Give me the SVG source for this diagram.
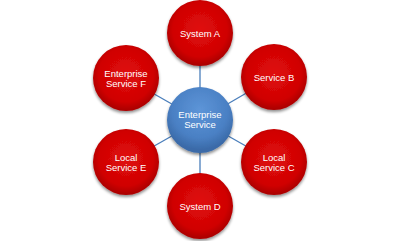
<svg xmlns="http://www.w3.org/2000/svg" width="400" height="241" viewBox="0 0 400 241">
<defs>
<radialGradient id="red" cx="50%" cy="45%" r="55%">
<stop offset="0" stop-color="#e00a0a"/>
<stop offset="0.75" stop-color="#d00404"/>
<stop offset="1" stop-color="#a80000"/>
</radialGradient>
<radialGradient id="blue" cx="50%" cy="35%" r="60%">
<stop offset="0" stop-color="#5d95d8"/>
<stop offset="0.7" stop-color="#4a80c4"/>
<stop offset="1" stop-color="#3a6aa8"/>
</radialGradient>
<filter id="sh" x="-30%" y="-30%" width="160%" height="170%">
<feGaussianBlur in="SourceAlpha" stdDeviation="1.6"/>
<feOffset dx="0" dy="2" result="b"/>
<feComponentTransfer><feFuncA type="linear" slope="0.45"/></feComponentTransfer>
<feMerge><feMergeNode/><feMergeNode in="SourceGraphic"/></feMerge>
</filter>
</defs>
<style>
.n{fill:url(#red);filter:url(#sh)}
.c{fill:url(#blue);filter:url(#sh)}
.t{font-family:"Liberation Sans",Arial,sans-serif;font-size:9.5px;fill:#ffffff;text-anchor:middle}
.e{stroke:#4a7ebb;stroke-width:1.3;fill:none}
</style>
<rect width="400" height="241" fill="#ffffff"/>
<g id="connectors">
<line class="e" x1="200" y1="120" x2="200" y2="33"/>
<line class="e" x1="200" y1="120" x2="274" y2="77"/>
<line class="e" x1="200" y1="120" x2="274" y2="162"/>
<line class="e" x1="200" y1="120" x2="200" y2="206"/>
<line class="e" x1="200" y1="120" x2="126" y2="162"/>
<line class="e" x1="200" y1="120" x2="126" y2="78"/>
</g>
<g id="system-a"><circle class="n" cx="200" cy="33" r="33"/><text class="t" x="200" y="37">System A</text></g>
<g id="service-b"><circle class="n" cx="274" cy="77" r="33"/><text class="t" x="274" y="81">Service B</text></g>
<g id="local-service-c"><circle class="n" cx="274" cy="162" r="33"/><text class="t" x="274" y="161">Local</text><text class="t" x="274" y="171">Service C</text></g>
<g id="system-d"><circle class="n" cx="200" cy="206" r="33"/><text class="t" x="200" y="210">System D</text></g>
<g id="local-service-e"><circle class="n" cx="126" cy="162" r="33"/><text class="t" x="126" y="161">Local</text><text class="t" x="126" y="171">Service E</text></g>
<g id="enterprise-service-f"><circle class="n" cx="126" cy="78" r="33"/><text class="t" x="126" y="77">Enterprise</text><text class="t" x="126" y="87">Service F</text></g>
<g id="enterprise-service"><circle class="c" cx="200" cy="120" r="33"/><text class="t" x="200" y="118">Enterprise</text><text class="t" x="200" y="128">Service</text></g>
</svg>
